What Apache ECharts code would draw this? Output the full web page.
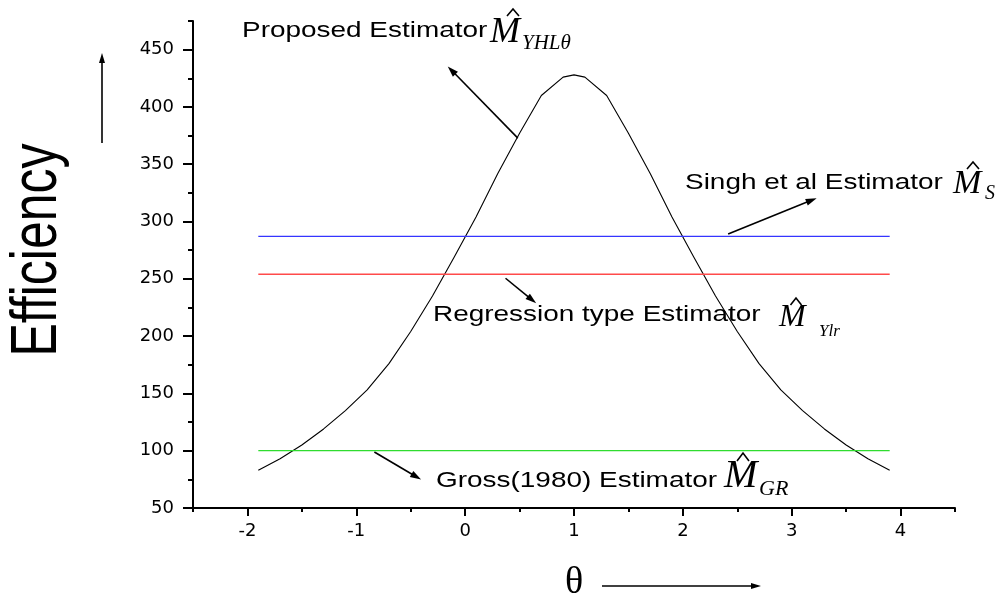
<!DOCTYPE html>
<html>
<head>
<meta charset="utf-8">
<script src="https://cdn.jsdelivr.net/npm/echarts@6.0.0/dist/echarts.min.js"></script>
<style>
  html, body { margin: 0; padding: 0; background: #fff; }
</style>
</head>
<body>
<div id="main" style="width: 1007px; height: 606px;"></div>
<script>
// theta grid and efficiency of the proposed estimator
var theta = [-1.9, -1.7, -1.5, -1.3, -1.1, -0.9, -0.7, -0.5, -0.3, -0.1, 0.1, 0.3, 0.5, 0.7, 0.9, 1.0,
  1.1, 1.3, 1.5, 1.7, 1.9, 2.1, 2.3, 2.5, 2.7, 2.9, 3.1, 3.3, 3.5, 3.7, 3.9];
var proposed = [83, 93, 105, 119, 135, 153, 176, 204, 235, 269, 304, 342, 377, 410, 426, 428,
  426, 410, 377, 342, 304, 269, 235, 204, 176, 153, 135, 119, 105, 93, 83];

// constant estimators
var singh = 287;
var regression = 254;
var gross = 100;

// ticks
var xMajor = [-2, -1, 0, 1, 2, 3, 4];
var xMinor = [-2.5, -1.5, -0.5, 0.5, 1.5, 2.5, 3.5, 4.5];
var yMajor = [50, 100, 150, 200, 250, 300, 350, 400, 450];
var yMinor = [75, 125, 175, 225, 275, 325, 375, 425, 475];

// annotation arrows, in data coords [from, to]
var arrows = [
  [[0.484, 372.8], [-0.16, 435.4]],
  [[2.416, 289.2], [3.229, 320.4]],
  [[0.371, 250.5], [0.653, 228.6]],
  [[-0.834, 98.9], [-0.405, 74.8]]
];

var curveData = theta.map(function (t, i) { return [t, proposed[i]]; });
function flat(v) {
  return [[theta[0], v], [theta[theta.length - 1], v]];
}

var sans = "'Liberation Sans', Arial, sans-serif";
var tickFont = "'DejaVu Sans', sans-serif";
var serif = "'Liberation Serif', 'Times New Roman', serif";

function txt(x, y, s, size, family, italic, sx) {
  return {
    type: 'text', x: x, y: y, silent: true, scaleX: sx || 1,
    style: {
      text: s, fontSize: size, fontFamily: family,
      fontStyle: italic ? 'italic' : 'normal',
      align: 'left', verticalAlign: 'middle', fill: '#000'
    }
  };
}
function hat(x, y, w, h) {
  return {
    type: 'polyline', silent: true,
    shape: { points: [[x - w / 2, y + h], [x, y], [x + w / 2, y + h]] },
    style: { stroke: '#000', lineWidth: 1.6, fill: null }
  };
}
// line with a narrow filled head at p2
function arrow(p1, p2, len, half) {
  var dx = p2[0] - p1[0], dy = p2[1] - p1[1];
  var d = Math.sqrt(dx * dx + dy * dy);
  var ux = dx / d, uy = dy / d;
  var bx = p2[0] - ux * len, by = p2[1] - uy * len;
  return [
    { type: 'line', silent: true, shape: { x1: p1[0], y1: p1[1], x2: bx + ux * 2, y2: by + uy * 2 },
      style: { stroke: '#000', lineWidth: 1.6 } },
    { type: 'polygon', silent: true,
      shape: { points: [[p2[0], p2[1]], [bx - uy * half, by + ux * half], [bx + uy * half, by - ux * half]] },
      style: { fill: '#000' } }
  ];
}
function axisCommon(min, max) {
  return {
    type: 'value', min: min, max: max,
    splitLine: { show: false },
    axisLine: { onZero: false, lineStyle: { color: '#000', width: 2 } }
  };
}

var xMain = axisCommon(-2.5, 4.5);
xMain.position = 'bottom';
xMain.axisTick = { show: true, customValues: xMajor, length: 8, lineStyle: { color: '#000', width: 2 } };
xMain.axisLabel = { customValues: xMajor, margin: 14, color: '#000', fontSize: 18, fontFamily: tickFont };
var xSmall = axisCommon(-2.5, 4.5);
xSmall.position = 'bottom';
xSmall.axisLine.show = false;
xSmall.axisTick = { show: true, customValues: xMinor, length: 4, lineStyle: { color: '#000', width: 2 } };
xSmall.axisLabel = { show: false };

var yMain = axisCommon(50, 475);
yMain.position = 'left';
yMain.axisTick = { show: true, customValues: yMajor, length: 10, lineStyle: { color: '#000', width: 2 } };
yMain.axisLabel = { customValues: yMajor, margin: 19, color: '#000', fontSize: 18, fontFamily: tickFont };
var ySmall = axisCommon(50, 475);
ySmall.position = 'left';
ySmall.axisLine.show = false;
ySmall.axisTick = { show: true, customValues: yMinor, length: 5, lineStyle: { color: '#000', width: 2 } };
ySmall.axisLabel = { show: false };

var myChart = echarts.init(document.getElementById('main'));
myChart.setOption({
  animation: false,
  backgroundColor: '#fff',
  grid: { left: 193, right: 52, top: 21, bottom: 98 },
  xAxis: [xMain, xSmall],
  yAxis: [yMain, ySmall],
  series: [
    {
      name: 'Proposed', type: 'line', data: curveData, symbol: 'none',
      lineStyle: { color: '#000', width: 1.1 }
    },
    {
      name: 'Singh', type: 'line', data: flat(singh), symbol: 'none',
      lineStyle: { color: '#3535ff', width: 1.3 }
    },
    {
      name: 'Regression', type: 'line', data: flat(regression), symbol: 'none',
      lineStyle: { color: '#ff4a4a', width: 1.3 }
    },
    {
      name: 'Gross', type: 'line', data: flat(gross), symbol: 'none',
      lineStyle: { color: '#2fdc2f', width: 1.3 }
    }
  ]
});

var graphics = [
  // y axis title + arrow
  {
    type: 'text', x: 38, y: 250, rotation: Math.PI / 2, scaleY: 1.3, silent: true,
    style: {
      text: 'Efficiency', fontSize: 50, fontFamily: sans,
      align: 'center', verticalAlign: 'middle', fill: '#000'
    }
  },
  // x axis title
  {
    type: 'text', x: 574, y: 583, silent: true,
    style: { text: 'θ', fontSize: 38, fontFamily: serif, align: 'center', verticalAlign: 'middle', fill: '#000' }
  },

  // Proposed
  txt(242, 31, 'Proposed Estimator', 22, sans, false, 1.27),
  txt(490, 33, 'M', 36, serif, true),
  hat(513, 9, 12, 7),
  txt(522, 43, 'YHLθ', 21, serif, true),
  // Singh
  txt(685, 183, 'Singh et al Estimator', 22, sans, false, 1.27),
  txt(953, 184, 'M', 34, serif, true),
  hat(973, 162, 12, 7),
  txt(985, 194, 'S', 20, serif, true),
  // Regression
  txt(433, 315, 'Regression type Estimator', 22, sans, false, 1.27),
  txt(779, 318, 'M', 32, serif, true),
  hat(796, 298, 11, 7),
  txt(819, 332, 'Ylr', 17, serif, true),
  // Gross
  txt(436, 481, 'Gross(1980) Estimator', 22, sans, false, 1.27),
  txt(724, 476, 'M', 40, serif, true),
  hat(743, 453, 12, 8),
  txt(759, 489, 'GR', 22, serif, true)
];
graphics = graphics.concat(arrow([102, 143], [102, 53], 10, 3));
graphics = graphics.concat(arrow([602, 586], [761, 586], 10, 3));
// annotation arrows from data coords
arrows.forEach(function (a) {
  var p1 = myChart.convertToPixel({ gridIndex: 0 }, a[0]);
  var p2 = myChart.convertToPixel({ gridIndex: 0 }, a[1]);
  graphics = graphics.concat(arrow(p1, p2, 11, 3.5));
});
myChart.setOption({ graphic: graphics });

window.addEventListener('resize', function () {
  myChart.resize();
});
</script>
</body>
</html>
